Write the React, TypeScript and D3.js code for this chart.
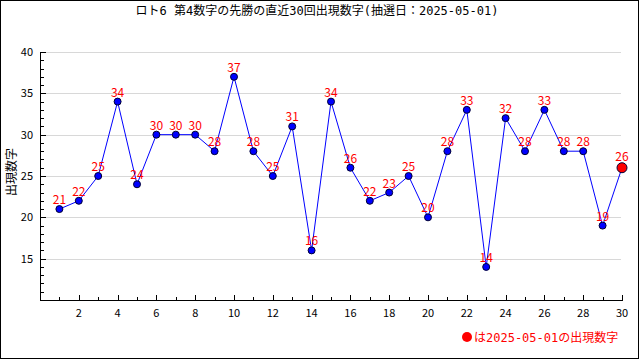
import React, { useEffect, useRef } from "react";
import * as d3 from "d3";

const title = "ロト6 第4数字の先勝の直近30回出現数字(抽選日：2025-05-01)";
const yLabel = "出現数字";
const legendText = "は2025-05-01の出現数字";
const draws = d3.range(1, 31);
const values = [21, 22, 25, 34, 24, 30, 30, 30, 28, 37, 28, 25, 31, 16, 34, 26, 22, 23, 25, 20, 28, 33, 14, 32, 28, 33, 28, 28, 19, 26];
const yTicks = [15, 20, 25, 30, 35, 40];
const xTicks = [2, 4, 6, 8, 10, 12, 14, 16, 18, 20, 22, 24, 26, 28, 30];

function App() {
  const ref = useRef<SVGSVGElement>(null);

  useEffect(() => {
    const svg = d3.select(ref.current);
    svg.selectAll("*").remove();
    const font = "'Noto Sans CJK JP', 'DejaVu Sans', sans-serif";
    const mono = "'DejaVu Sans Mono', 'Noto Sans CJK JP', monospace";

    const x = d3.scaleLinear().domain([0, 30]).range([40, 622]);
    const y = d3.scaleLinear().domain([10, 40]).range([300, 52]);

    svg.append("rect")
      .attr("x", 0.5).attr("y", 0.5)
      .attr("width", 638).attr("height", 358)
      .attr("fill", "#fff").attr("stroke", "#000");

    svg.append("text")
      .attr("x", 317).attr("y", 15)
      .attr("text-anchor", "middle")
      .style("font-family", mono).style("font-size", "12px")
      .text(title);

    // gridlines
    svg.append("g").selectAll("line").data(yTicks).enter().append("line")
      .attr("x1", 40).attr("x2", 621)
      .attr("y1", (d) => Math.round(y(d)) + 0.5)
      .attr("y2", (d) => Math.round(y(d)) + 0.5)
      .attr("stroke", "#d8d8d8");

    // y axis
    const yAxis = svg.append("g");
    yAxis.append("line").attr("x1", 40.5).attr("x2", 40.5).attr("y1", 52).attr("y2", 300.5).attr("stroke", "#000");
    yAxis.selectAll("line.t").data(d3.range(11, 41)).enter().append("line")
      .attr("class", "t")
      .attr("x1", 40).attr("x2", (d) => (d % 5 === 0 ? 46 : 44))
      .attr("y1", (d) => Math.round(y(d)) + 0.5)
      .attr("y2", (d) => Math.round(y(d)) + 0.5)
      .attr("stroke", "#000");
    yAxis.selectAll("text").data(yTicks).enter().append("text")
      .attr("x", 33).attr("y", (d) => y(d) + 4)
      .attr("text-anchor", "end")
      .style("font-family", font).style("font-size", "11px")
      .text((d) => d);

    // x axis
    const xAxis = svg.append("g");
    xAxis.append("line").attr("x1", 40).attr("x2", 623).attr("y1", 300.5).attr("y2", 300.5).attr("stroke", "#000");
    xAxis.selectAll("line.t").data(draws).enter().append("line")
      .attr("class", "t")
      .attr("x1", (d) => Math.round(x(d)) + 0.5)
      .attr("x2", (d) => Math.round(x(d)) + 0.5)
      .attr("y1", 300).attr("y2", (d) => (d % 2 === 0 ? 295 : 297))
      .attr("stroke", "#000");
    xAxis.selectAll("text").data(xTicks).enter().append("text")
      .attr("x", (d) => x(d)).attr("y", 317)
      .attr("text-anchor", "middle")
      .style("font-family", font).style("font-size", "11px")
      .text((d) => d);

    svg.append("text")
      .attr("transform", "translate(16,172) rotate(-90)")
      .attr("text-anchor", "middle")
      .style("font-family", font).style("font-size", "12px")
      .text(yLabel);

    const line = d3.line<number>()
      .x((d, i) => x(draws[i]))
      .y((d) => y(d));

    svg.append("path")
      .attr("d", line(values))
      .attr("fill", "none")
      .attr("stroke", "#0000ff")
      .attr("stroke-width", 1);

    const last = values.length - 1;
    svg.append("g").selectAll("circle").data(values).enter().append("circle")
      .attr("cx", (d, i) => x(draws[i]))
      .attr("cy", (d) => y(d))
      .attr("r", (d, i) => (i === last ? 5 : 3.5))
      .attr("fill", (d, i) => (i === last ? "#ff0000" : "#0000ff"))
      .attr("stroke", "#000033");

    svg.append("g").selectAll("text").data(values).enter().append("text")
      .attr("x", (d, i) => x(draws[i]))
      .attr("y", (d, i) => y(d) - (i === last ? 7 : 5))
      .attr("text-anchor", "middle")
      .attr("fill", "#ff0000")
      .style("font-family", font).style("font-size", "12px")
      .text((d) => d);

    // legend
    svg.append("circle")
      .attr("cx", 467).attr("cy", 337).attr("r", 5)
      .attr("fill", "#ff0000");
    svg.append("text")
      .attr("x", 474).attr("y", 342)
      .attr("fill", "#ff0000")
      .style("font-family", mono).style("font-size", "12px")
      .text(legendText);
  }, []);

  return (
    <svg ref={ref} width={640} height={360} style={{ position: "absolute", left: 0, top: 0 }} />
  );
}

export default App;
